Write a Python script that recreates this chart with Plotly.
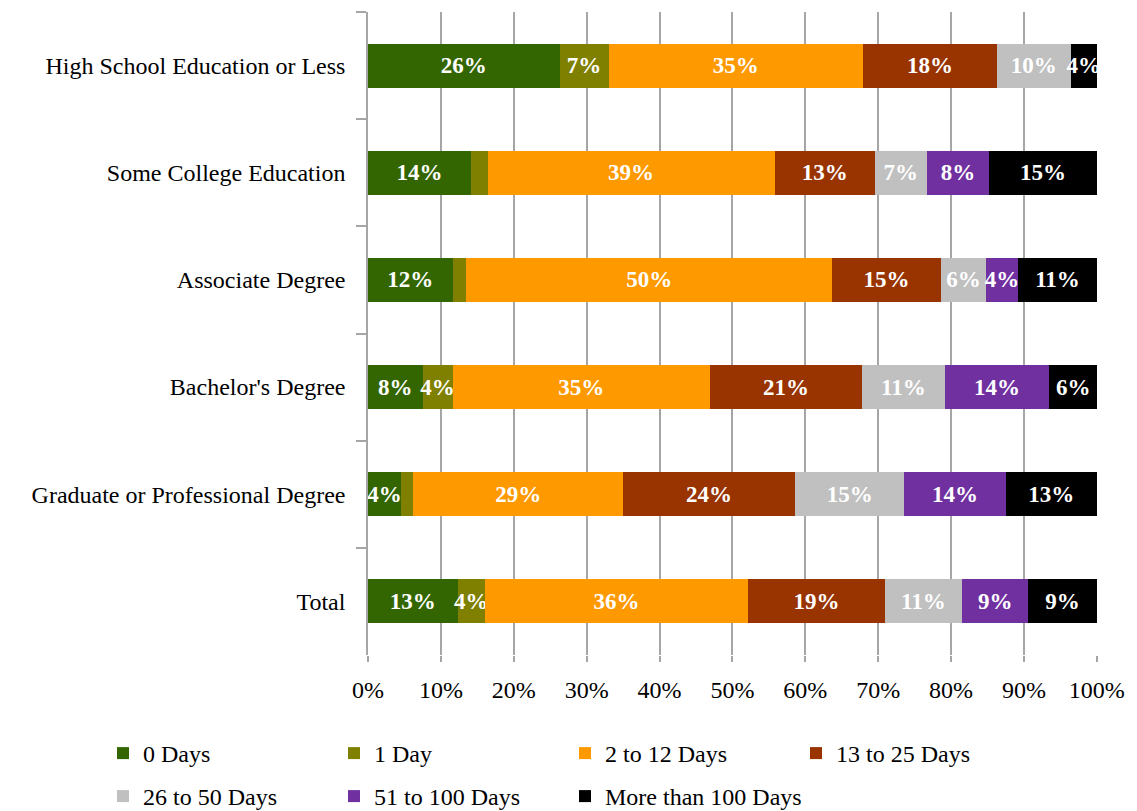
import plotly.graph_objects as go

categories = [
    "High School Education or Less",
    "Some College Education",
    "Associate Degree",
    "Bachelor's Degree",
    "Graduate or Professional Degree",
    "Total",
]

series_names = ["0 Days", "1 Day", "2 to 12 Days", "13 to 25 Days",
                "26 to 50 Days", "51 to 100 Days", "More than 100 Days"]

days_0 = [26.3, 14.1, 11.6, 7.5, 4.5, 12.3]
days_1 = [6.7, 2.3, 1.9, 4.1, 1.7, 3.7]
days_2_12 = [34.9, 39.4, 50.2, 35.3, 28.8, 36.2]
days_13_25 = [18.4, 13.7, 14.9, 20.9, 23.6, 18.7]
days_26_50 = [10.1, 7.2, 6.2, 11.3, 15.0, 10.6]
days_51_100 = [0.0, 8.5, 4.4, 14.4, 13.9, 9.1]
days_100_plus = [3.6, 14.8, 10.8, 6.5, 12.5, 9.4]

labels_0 = ["26%", "14%", "12%", "8%", "4%", "13%"]
labels_1 = ["7%", "", "", "4%", "", "4%"]
labels_2_12 = ["35%", "39%", "50%", "35%", "29%", "36%"]
labels_13_25 = ["18%", "13%", "15%", "21%", "24%", "19%"]
labels_26_50 = ["10%", "7%", "6%", "11%", "15%", "11%"]
labels_51_100 = ["", "8%", "4%", "14%", "14%", "9%"]
labels_100_plus = ["4%", "15%", "11%", "6%", "13%", "9%"]

tick_values = [0, 10, 20, 30, 40, 50, 60, 70, 80, 90, 100]
tick_labels = ["0%", "10%", "20%", "30%", "40%", "50%", "60%", "70%", "80%", "90%", "100%"]

colors = ["#336600", "#808000", "#FF9900", "#993300", "#C0C0C0", "#7030A0", "#000000"]

values = [days_0, days_1, days_2_12, days_13_25, days_26_50, days_51_100, days_100_plus]
labels = [labels_0, labels_1, labels_2_12, labels_13_25, labels_26_50, labels_51_100, labels_100_plus]

FONT = "Liberation Serif"
GRID = "#A6A6A6"
FIG_W, FIG_H = 1129, 803

# legend grid: 4 columns, 2 rows (figure pixel positions of each legend box)
legend_cols_px = [95, 326, 557, 788]
legend_rows_px = [723, 766]

fig = go.Figure()
layout_legends = {}
for i, (name, vals, labs, col) in enumerate(zip(series_names, values, labels, colors)):
    lg = "legend" if i == 0 else f"legend{i + 1}"
    fig.add_trace(go.Bar(
        y=categories,
        x=vals,
        name=name,
        orientation="h",
        marker=dict(color=col, line=dict(width=0)),
        text=labs,
        textposition="inside",
        insidetextanchor="middle",
        textangle=0,
        constraintext="none",
        cliponaxis=False,
        textfont=dict(family=FONT, size=23, color="white", weight="bold"),
        hoverinfo="skip",
        legend=lg,
    ))
    r, c = divmod(i, 4)
    layout_legends[lg] = dict(
        orientation="h",
        xref="container", yref="container",
        x=legend_cols_px[c] / FIG_W,
        y=1 - legend_rows_px[r] / FIG_H,
        xanchor="left", yanchor="top",
        font=dict(family=FONT, size=24),
        itemclick=False,
        bgcolor="rgba(0,0,0,0)",
    )

fig.update_layout(
    barmode="stack",
    bargap=0.59,
    width=FIG_W,
    height=FIG_H,
    margin=dict(l=360, r=40, t=4, b=156),
    paper_bgcolor="white",
    plot_bgcolor="white",
    font=dict(family=FONT, size=24, color="black"),
    uniformtext=dict(mode="show", minsize=23),
    showlegend=True,
    xaxis=dict(
        range=[0, 100.02],
        tickvals=tick_values,
        ticktext=tick_labels,
        showgrid=True,
        gridcolor=GRID,
        gridwidth=1.5,
        zeroline=False,
        showline=False,
        ticks="outside",
        ticklen=6,
        tickcolor=GRID,
        tickwidth=1.5,
        tickfont=dict(family=FONT, size=24),
        ticklabelstandoff=7,
    ),
    yaxis=dict(
        autorange="reversed",
        showline=True,
        linecolor=GRID,
        linewidth=1.5,
        ticks="outside",
        tickson="boundaries",
        ticklen=10,
        tickcolor=GRID,
        tickwidth=1.5,
        showgrid=False,
        tickfont=dict(family=FONT, size=24),
        ticklabelstandoff=16,
    ),
    **layout_legends,
)

fig.write_html("out.html")
